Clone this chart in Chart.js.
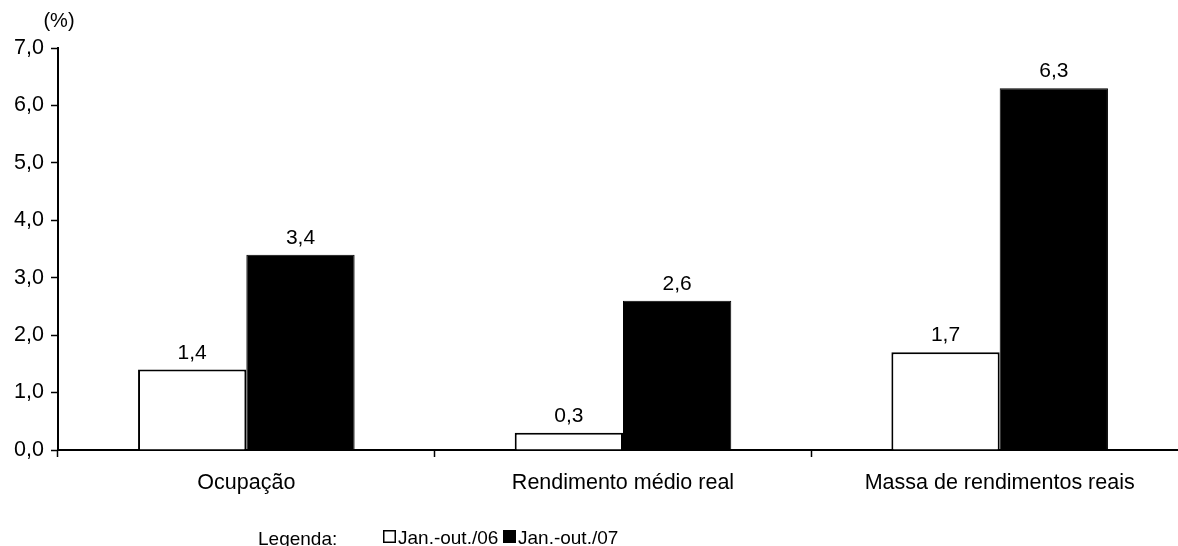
<!DOCTYPE html>
<html>
<head>
<meta charset="utf-8">
<script src="https://cdn.jsdelivr.net/npm/chart.js@4.4.1/dist/chart.umd.min.js"></script>
<style>
  html, body { margin: 0; padding: 0; background: #fff; overflow: hidden; }
  #wrap { position: relative; width: 1190px; height: 546px; }
</style>
</head>
<body>
<div id="wrap"><canvas id="c" width="1190" height="546"></canvas></div>
<script>
// Variação anual (%) — indicadores de trabalho e rendimento
const categories = ['Ocupação', 'Rendimento médio real', 'Massa de rendimentos reais'];
const seriesLabels = ['Jan.-out./06', 'Jan.-out./07'];
const values06 = [1.4, 0.3, 1.7];
const values07 = [3.4, 2.6, 6.3];
const yTicks = [0, 1, 2, 3, 4, 5, 6, 7];

const FONT = 'Liberation Sans, Arial, Helvetica, sans-serif';
const fmt = v => v.toFixed(1).replace('.', ',');

// Value labels above each bar
const valueLabels = {
  id: 'valueLabels',
  afterDatasetsDraw(chart) {
    const ctx = chart.ctx;
    ctx.save();
    ctx.fillStyle = '#000';
    ctx.font = '21px ' + FONT;
    ctx.textAlign = 'center';
    ctx.textBaseline = 'alphabetic';
    chart.data.datasets.forEach((ds, i) => {
      chart.getDatasetMeta(i).data.forEach((bar, j) => {
        ctx.fillText(fmt(ds.data[j]), bar.x, bar.y - 11);
      });
    });
    ctx.restore();
  }
};

// Unit caption and the "Legenda:" key underneath
const extras = {
  id: 'extras',
  afterDraw(chart) {
    const ctx = chart.ctx;
    ctx.save();
    ctx.fillStyle = '#000';
    ctx.font = '20px ' + FONT;
    ctx.textBaseline = 'middle';
    ctx.textAlign = 'center';
    ctx.fillText('(%)', 59, 21);

    ctx.textAlign = 'left';
    ctx.textBaseline = 'alphabetic';
    const base = 544;
    ctx.font = '19px ' + FONT;
    ctx.fillText('Legenda:', 258, base + 1);
    const items = [
      { x: 383, fill: '#fff', label: seriesLabels[0] },
      { x: 503, fill: '#000', label: seriesLabels[1] }
    ];
    items.forEach(it => {
      ctx.fillStyle = it.fill;
      ctx.fillRect(it.x, base - 14, 13, 13);
      ctx.strokeStyle = '#000';
      ctx.lineWidth = 1.5;
      ctx.strokeRect(it.x + 0.75, base - 13.25, 11.5, 11.5);
      ctx.fillStyle = '#000';
      ctx.fillText(it.label, it.x + 15, base);
    });
    ctx.restore();
  }
};

new Chart(document.getElementById('c'), {
  type: 'bar',
  data: {
    labels: categories,
    datasets: [
      {
        label: seriesLabels[0],
        data: values06,
        backgroundColor: '#ffffff',
        borderColor: '#000000',
        borderWidth: 2,
        borderSkipped: 'bottom'
      },
      {
        label: seriesLabels[1],
        data: values07,
        backgroundColor: '#000000',
        borderColor: '#000000',
        borderWidth: 1,
        borderSkipped: 'bottom'
      }
    ]
  },
  options: {
    responsive: false,
    animation: false,
    events: [],
    layout: { padding: { top: 48, right: 2, bottom: 0, left: 0 } },
    datasets: {
      bar: { categoryPercentage: 0.575, barPercentage: 1.0 }
    },
    plugins: {
      legend: { display: false },
      tooltip: { enabled: false }
    },
    scales: {
      x: {
        offset: true,
        grid: {
          offset: true,
          drawOnChartArea: false,
          drawTicks: true,
          tickLength: 7,
          tickColor: '#000',
          tickWidth: 1.5
        },
        border: { display: true, color: '#000', width: 2 },
        ticks: {
          color: '#000',
          font: { size: 21.5, family: FONT },
          padding: 13,
          maxRotation: 0
        },
        afterFit(scale) { scale.height = 96; }
      },
      y: {
        min: yTicks[0],
        max: yTicks[yTicks.length - 1],
        afterBuildTicks(scale) { scale.ticks = yTicks.map(v => ({ value: v })); },
        grid: {
          drawOnChartArea: false,
          drawTicks: true,
          tickLength: 7,
          tickColor: '#000',
          tickWidth: 1.5
        },
        border: { display: true, color: '#000', width: 2 },
        ticks: {
          color: '#000',
          font: { size: 21.5, family: FONT },
          padding: 7,
          callback: v => fmt(v)
        },
        afterFit(scale) { scale.width = 58; }
      }
    }
  },
  plugins: [valueLabels, extras]
});
</script>
</body>
</html>
